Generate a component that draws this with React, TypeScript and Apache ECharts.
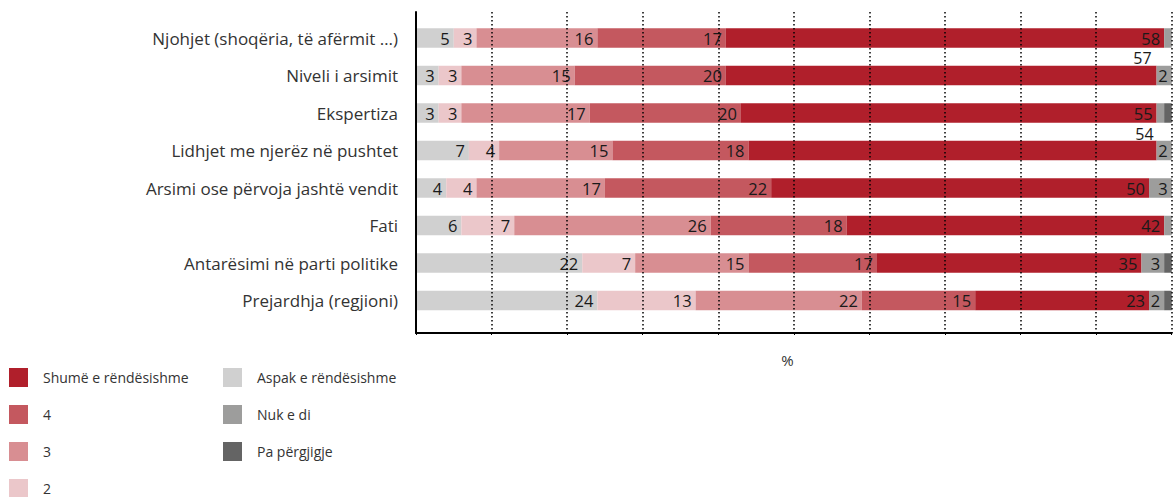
import React, { useEffect, useRef } from "react";
import * as echarts from "echarts";

const categories = [
  "Njohjet (shoqëria, të afërmit …)",
  "Niveli i arsimit",
  "Ekspertiza",
  "Lidhjet me njerëz në pushtet",
  "Arsimi ose përvoja jashtë vendit",
  "Fati",
  "Antarësimi në parti politike",
  "Prejardhja (regjioni)",
];

const aspak = [5, 3, 3, 7, 4, 6, 22, 24];
const dy = [3, 3, 3, 4, 4, 7, 7, 13];
const tre = [16, 15, 17, 15, 17, 26, 15, 22];
const kater = [17, 20, 20, 18, 22, 18, 17, 15];
const shume = [58, 57, 55, 54, 50, 42, 35, 23];
const nukEDi = [1, 2, 1, 2, 3, 1, 3, 2];
const paPergjigje = [0, 1, 1, 0, 1, 1, 1, 1];

const xTicks = [0, 10, 20, 30, 40, 50, 60, 70, 80, 90, 100];

const FONT = "Open Sans";

export default function App() {
  const ref = useRef<HTMLDivElement>(null);

  useEffect(() => {
    document.body.style.margin = "0";
    if (!ref.current) return;
    const chart = echarts.init(ref.current, undefined, { renderer: "svg" });

    const labelBase = {
      show: true,
      position: "insideRight" as const,
      distance: 4,
      color: "#1a1a1a",
      fontSize: 16.5,
      lineHeight: 14,
      fontFamily: FONT,
    };

    const raised: Record<number, [number, number]> = { 1: [-1, -18], 3: [1, -17] };

    const mk = (
      name: string,
      values: number[],
      color: string,
      opts: { minLabel?: number; hideLabel?: boolean; raise?: boolean } = {}
    ) => ({
      name,
      type: "bar",
      stack: "total",
      xAxisIndex: 0,
      yAxisIndex: 0,
      barWidth: 19.5,
      itemStyle: { color },
      label: {
        ...labelBase,
        show: !opts.hideLabel,
        formatter: (p: any) =>
          opts.minLabel !== undefined && p.value < opts.minLabel ? "" : String(p.value),
      },
      data: values.map((v, i) =>
        opts.raise && raised[i]
          ? { value: v, label: { offset: raised[i], fontSize: 16 } }
          : v
      ),
    });

    const legendText = {
      fontSize: 14,
      color: "#333",
      fontFamily: FONT,
      padding: [0, 0, 0, 10],
    };

    const legendBase = {
      orient: "vertical",
      top: 368,
      height: 140,
      padding: 0,
      itemWidth: 19,
      itemHeight: 19,
      itemGap: 18,
      icon: "rect",
      textStyle: legendText,
    };

    chart.setOption({
      animation: false,
      textStyle: { fontFamily: FONT },
      grid: [
        { left: 416, right: 1.3, top: 19.25, height: 300, containLabel: false },
        { left: 416, right: 1.3, top: 12, bottom: 164, containLabel: false },
      ],
      xAxis: [
        { type: "value", gridIndex: 0, min: 0, max: 100, show: false },
        {
          type: "value",
          gridIndex: 1,
          min: xTicks[0],
          max: xTicks[xTicks.length - 1],
          interval: 10,
          z: 5,
          axisLine: { show: true, lineStyle: { color: "#000", width: 2 } },
          axisTick: { show: true, length: 2, lineStyle: { color: "#000" } },
          axisLabel: { show: false },
          splitLine: {
            show: true,
            lineStyle: { color: "#000", width: 1.5, type: [1.5, 2.5] },
          },
          name: "%",
          nameLocation: "middle",
          nameGap: 19,
          nameTextStyle: {
            fontSize: 15,
            color: "#333",
            fontFamily: FONT,
            padding: [0, 13, 0, 0],
          },
        },
      ],
      yAxis: [
        {
          type: "category",
          gridIndex: 0,
          data: categories,
          inverse: true,
          axisLine: { show: false },
          axisTick: { show: false },
          axisLabel: { margin: 18, fontSize: 17, color: "#333", fontFamily: FONT },
        },
        {
          type: "value",
          gridIndex: 1,
          min: 0,
          max: 1,
          z: 5,
          axisLine: { show: true, lineStyle: { color: "#000", width: 2 } },
          axisTick: { show: false },
          axisLabel: { show: false },
          splitLine: { show: false },
        },
      ],
      legend: [
        {
          ...legendBase,
          left: 9,
          data: ["Shumë e rëndësishme", "4", "3", "2"],
        },
        {
          ...legendBase,
          left: 223,
          data: ["Aspak e rëndësishme", "Nuk e di", "Pa përgjigje"],
        },
      ],
      series: [
        mk("Aspak e rëndësishme", aspak, "#D0D0D0"),
        mk("2", dy, "#EBC7CA"),
        mk("3", tre, "#D88E92"),
        mk("4", kater, "#C4585F"),
        mk("Shumë e rëndësishme", shume, "#B01F2B", { raise: true }),
        mk("Nuk e di", nukEDi, "#9D9D9C", { minLabel: 2 }),
        mk("Pa përgjigje", paPergjigje, "#646464", { hideLabel: true }),
      ],
    });

    return () => chart.dispose();
  }, []);

  return <div ref={ref} style={{ width: 1173, height: 497 }} />;
}
